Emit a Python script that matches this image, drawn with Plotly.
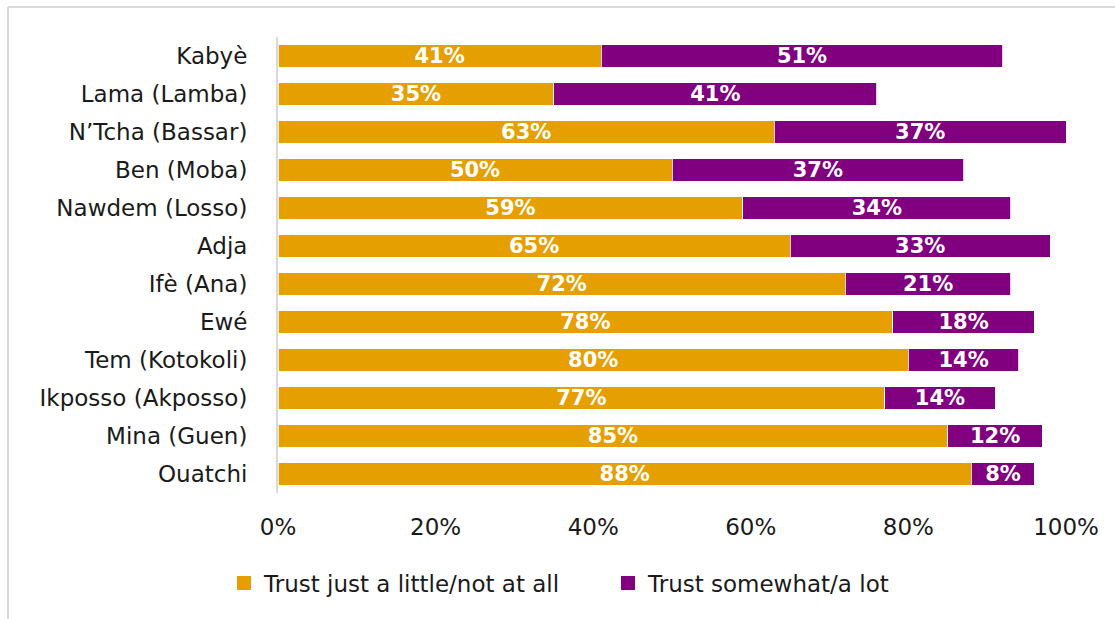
import plotly.graph_objects as go

# Ethnic groups, listed top to bottom
groups = [
    "Kabyè", "Lama (Lamba)", "N’Tcha (Bassar)", "Ben (Moba)",
    "Nawdem (Losso)", "Adja", "Ifè (Ana)", "Ewé", "Tem (Kotokoli)",
    "Ikposso (Akposso)", "Mina (Guen)", "Ouatchi",
]
trust_little = [41, 35, 63, 50, 59, 65, 72, 78, 80, 77, 85, 88]
trust_lot = [51, 41, 37, 37, 34, 33, 21, 18, 14, 14, 12, 8]

x_ticks = [0, 20, 40, 60, 80, 100]
x_tick_text = [f"{v}%" for v in x_ticks]

ORANGE = "#E69F00"
PURPLE = "#800080"
FONT = "DejaVu Sans"
TEXT = "#1a1a1a"

series = [
    ("Trust just a little/not at all", trust_little, ORANGE),
    ("Trust somewhat/a lot", trust_lot, PURPLE),
]

fig = go.Figure()
for name, vals, color in series:
    fig.add_trace(go.Bar(
        y=groups, x=vals, name=name, orientation="h", showlegend=False,
        marker=dict(color=color, line=dict(color="white", width=0.8)),
        text=[f"{v}%" for v in vals],
        textposition="inside", insidetextanchor="middle",
        textfont=dict(family=FONT, size=21, color="white", weight="bold"),
        hoverinfo="skip",
    ))

# legend entries drawn as larger square swatches
for name, vals, color in series:
    fig.add_trace(go.Scatter(
        x=[None], y=[None], mode="markers", name=name,
        marker=dict(symbol="square", size=14, color=color),
        hoverinfo="skip",
    ))

# plot-area geometry (pixels) used to place the outer frame and legend
W, H = 1115, 619
L, R, T, B = 278, 49, 37, 126
pw, ph = W - L - R, H - T - B

def px_x(p):
    return (p - L) / pw

def px_y(p):
    return (H - B - p) / ph

fig.update_layout(
    width=W, height=H,
    margin=dict(l=L, r=R, t=T, b=B),
    barmode="stack", bargap=0.42,
    plot_bgcolor="white", paper_bgcolor="white",
    font=dict(family=FONT, size=23, color=TEXT),
    uniformtext=dict(minsize=21, mode="show"),
    showlegend=True,
    legend=dict(
        orientation="h", x=px_x(224), xanchor="left", y=px_y(583), yanchor="middle",
        font=dict(family=FONT, size=23, color=TEXT),
        traceorder="normal", itemwidth=30,
        entrywidth=339, entrywidthmode="pixels",
    ),
    shapes=[
        # outer chart frame (left and top edges)
        dict(type="line", xref="paper", yref="paper",
             x0=px_x(8), x1=px_x(8), y0=px_y(7), y1=px_y(H + 5),
             line=dict(color="#d9d9d9", width=2)),
        dict(type="line", xref="paper", yref="paper",
             x0=px_x(8), x1=px_x(W + 5), y0=px_y(7), y1=px_y(7),
             line=dict(color="#d9d9d9", width=2)),
    ],
)

fig.update_xaxes(
    range=[0, 100], tickvals=x_ticks, ticktext=x_tick_text,
    showgrid=False, zeroline=False, showline=False,
    ticks="outside", ticklen=13, tickcolor="rgba(0,0,0,0)",
    tickfont=dict(family=FONT, size=23, color=TEXT),
)
fig.update_yaxes(
    categoryorder="array", categoryarray=groups, autorange="reversed",
    showgrid=False, zeroline=False,
    showline=True, linecolor="#d9d9d9", linewidth=2,
    ticks="outside", ticklen=24, tickcolor="rgba(0,0,0,0)",
    tickfont=dict(family=FONT, size=23, color=TEXT),
)

fig.write_html("out.html")
